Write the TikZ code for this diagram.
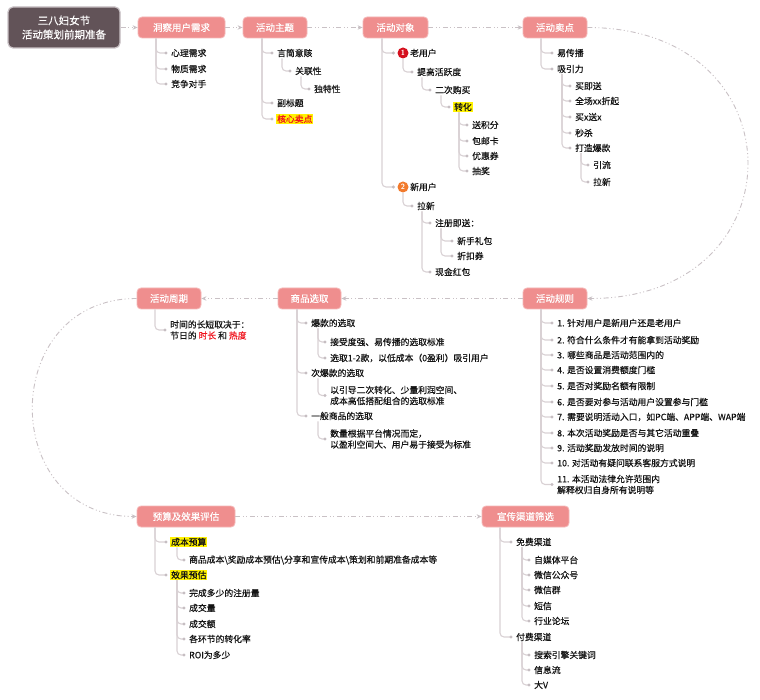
\documentclass[tikz,border=0pt]{standalone}
\usepackage{fontspec}
\newfontfamily\cjk{Noto Sans CJK SC}
\newfontfamily\cjkm[FakeBold=0.5]{Noto Sans CJK SC}
\usetikzlibrary{arrows.meta}
\definecolor{hdrpink}{HTML}{EF8E8E}
\definecolor{hdrborder}{HTML}{F5B8B8}
\definecolor{rootc}{HTML}{625358}
\definecolor{rootb}{HTML}{C9C1C5}
\definecolor{brc}{HTML}{D9D1D4}
\definecolor{dotc}{HTML}{C6BEC2}
\definecolor{flowc}{HTML}{C9C1C5}
\definecolor{txt}{HTML}{141414}
\definecolor{hlred}{HTML}{F0141E}
\definecolor{badgeA}{HTML}{D5101E}
\definecolor{badgeB}{HTML}{F27A2C}
\tikzset{
  hdr/.style={rectangle, rounded corners=4pt, fill=hdrpink, draw=hdrborder, line width=0.8pt,
    text=white, font=\cjkm\fontsize{9.5}{11}\selectfont, minimum height=21pt, inner sep=0pt},
  rootbox/.style={rectangle, rounded corners=5pt, fill=rootc, draw=rootb, line width=1.2pt,
    text=white, font=\cjkm\fontsize{10.5}{14}\selectfont, minimum width=112pt, minimum height=41pt,
    align=center, inner sep=0pt},
  lf/.style={anchor=west, inner sep=1pt, font=\cjkm\fontsize{8.8}{11}\selectfont, text=txt, align=left},
  hl/.style={fill=yellow},
  br/.style={draw=brc, line width=1.1pt, rounded corners=4pt},
  flow/.style={draw=flowc, line width=0.9pt,
    dash pattern=on 5pt off 2.5pt on 1pt off 2.5pt on 1pt off 2.5pt,
    -{Stealth[length=5pt,width=4.5pt]}},
  badge/.style={circle, minimum size=11pt, inner sep=0pt, text=white,
    font=\fontsize{7.5}{8}\selectfont\bfseries\sffamily},
}
\newcommand\kid[3]{\draw[br] (#2,0 |- #1.south) |- ([xshift=-4pt]#3.west);
  \fill[dotc] ([xshift=-4pt]#3.west) circle (1.7pt);}
\begin{document}
\begin{tikzpicture}[x=1pt,y=-1pt]
\useasboundingbox[fill=white] (0,0) rectangle (760,700);

% headers
\node[rootbox] (root) at (64,27.5) {三八妇女节\\活动策划前期准备};
\node[hdr, minimum width=87pt] (d0) at (181.5,27.5) {洞察用户需求};
\node[hdr, minimum width=64pt] (t0) at (275,27.5) {活动主题};
\node[hdr, minimum width=65pt] (o0) at (395.5,27.5) {活动对象};
\node[hdr, minimum width=64pt] (s0) at (555,27.5) {活动卖点};
\node[hdr, minimum width=64pt] (r0) at (555,298.5) {活动规则};
\node[hdr, minimum width=63pt] (g0) at (309.5,298.5) {商品选取};
\node[hdr, minimum width=64pt] (c0) at (169,298.5) {活动周期};
\node[hdr, minimum width=98pt] (y0) at (186,516.5) {预算及效果评估};
\node[hdr, minimum width=87pt] (x0) at (525.5,516.5) {宣传渠道筛选};

% flow connectors
\draw[flow] (root.east) -- (d0.west);
\draw[flow] (d0.east) -- (t0.west);
\draw[flow] (t0.east) -- (o0.west);
\draw[flow] (o0.east) -- (s0.west);
\draw[flow] (s0.east) .. controls (801,27.5) and (801,298.5) .. (r0.east);
\draw[flow] (r0.west) -- (g0.east);
\draw[flow] (g0.west) -- (c0.east);
\draw[flow] (c0.west) .. controls (-2,298.5) and (-2,516.5) .. (y0.west);
\draw[flow] (y0.east) -- (x0.west);

% 洞察用户需求
\node[lf] (d1) at (170,53) {心理需求};
\node[lf] (d2) at (170,69) {物质需求};
\node[lf] (d3) at (170,84) {竞争对手};
\kid{d0}{156}{d1}\kid{d0}{156}{d2}\kid{d0}{156}{d3}

% 活动主题
\node[lf] (t1) at (276,53) {言简意赅};
\node[lf] (t2) at (294,71) {关联性};
\node[lf] (t3) at (313,89) {独特性};
\node[lf] (t4) at (276,103) {副标题};
\node[lf, hl, text=hlred] (t5) at (276,119) {核心卖点};
\kid{t0}{262}{t1}\kid{t1}{282}{t2}\kid{t2}{301}{t3}
\kid{t0}{262}{t4}\kid{t0}{262}{t5}

% 活动对象
\node[badge, fill=badgeA] (b1) at (403,53) {1};
\node[lf] (u1) at (409,53) {老用户};
\node[lf] (u2) at (416,72) {提高活跃度};
\node[lf] (u3) at (434,90) {二次购买};
\node[lf, hl] (u4) at (453,107) {转化};
\node[lf] (u5) at (471,125) {送积分};
\node[lf] (u6) at (471,141) {包邮卡};
\node[lf] (u7) at (471,156) {优惠券};
\node[lf] (u8) at (471,171) {抽奖};
\node[badge, fill=badgeB] (b2) at (403,187) {2};
\node[lf] (n1) at (409,187) {新用户};
\node[lf] (n2) at (416,206) {拉新};
\node[lf] (n3) at (434,223) {注册即送：};
\node[lf] (n4) at (456,241) {新手礼包};
\node[lf] (n5) at (456,256) {折扣券};
\node[lf] (n6) at (434,272) {现金红包};
\kid{o0}{382}{b1}\kid{b1}{403}{u2}\kid{u2}{422}{u3}\kid{u3}{441}{u4}
\kid{u4}{459}{u5}\kid{u4}{459}{u6}\kid{u4}{459}{u7}\kid{u4}{459}{u8}
\kid{o0}{382}{b2}\kid{b2}{403}{n2}\kid{n2}{422}{n3}
\kid{n3}{441}{n4}\kid{n3}{441}{n5}\kid{n2}{422}{n6}

% 活动卖点
\node[lf] (s1) at (556,53) {易传播};
\node[lf] (s2) at (556,69) {吸引力};
\node[lf] (s3) at (574,86) {买即送};
\node[lf] (s4) at (574,101) {全场xx折起};
\node[lf] (s5) at (574,117) {买x送x};
\node[lf] (s6) at (574,133) {秒杀};
\node[lf] (s7) at (574,148) {打造爆款};
\node[lf] (s8) at (592,165) {引流};
\node[lf] (s9) at (592,182) {拉新};
\kid{s0}{541}{s1}\kid{s0}{541}{s2}
\kid{s2}{562}{s3}\kid{s2}{562}{s4}\kid{s2}{562}{s5}\kid{s2}{562}{s6}\kid{s2}{562}{s7}
\kid{s7}{581}{s8}\kid{s7}{581}{s9}

% 活动周期
\node[lf] (c1) at (169,330) {时间的长短取决于：\\节日的 {\color{hlred}时长} 和 {\color{hlred}热度}};
\kid{c0}{155}{c1}

% 商品选取
\node[lf] (g1) at (310,323) {爆款的选取};
\node[lf] (g2) at (329,342) {接受度强、易传播的选取标准};
\node[lf] (g3) at (329,358) {选取1-2款，以低成本（0盈利）吸引用户};
\node[lf] (g4) at (310,373) {次爆款的选取};
\node[lf] (g5) at (329,395.5) {以引导二次转化、少量利润空间、\\成本高低搭配组合的选取标准};
\node[lf] (g6) at (310,416) {一般商品的选取};
\node[lf] (g7) at (329,439) {数量根据平台情况而定，\\以盈利空间大、用户易于接受为标准};
\kid{g0}{297}{g1}\kid{g1}{318}{g2}\kid{g1}{318}{g3}
\kid{g0}{297}{g4}\kid{g4}{318}{g5}
\kid{g0}{297}{g6}\kid{g6}{318}{g7}

% 活动规则
\node[lf] (r1) at (556,323) {1. 针对用户是新用户还是老用户};
\node[lf] (r2) at (556,340) {2. 符合什么条件才有能拿到活动奖励};
\node[lf] (r3) at (556,355) {3. 哪些商品是活动范围内的};
\node[lf] (r4) at (556,370) {4. 是否设置消费额度门槛};
\node[lf] (r5) at (556,386) {5. 是否对奖励名额有限制};
\node[lf] (r6) at (556,402) {6. 是否要对参与活动用户设置参与门槛};
\node[lf] (r7) at (556,417) {7. 需要说明活动入口，如PC端、APP端、WAP端};
\node[lf] (r8) at (556,433) {8. 本次活动奖励是否与其它活动重叠};
\node[lf] (r9) at (556,448) {9. 活动奖励发放时间的说明};
\node[lf] (r10) at (556,463) {10. 对活动有疑问联系客服方式说明};
\node[lf] (r11) at (556,484.5) {11. 本活动法律允许范围内\\解释权归自身所有说明等};
\foreach \r in {r1,r2,r3,r4,r5,r6,r7,r8,r9,r10,r11}{\kid{r0}{541}{\r}}

% 预算及效果评估
\node[lf, hl] (y1) at (170,542) {成本预算};
\node[lf] (y2) at (188,560) {商品成本\textbackslash 奖励成本预估\textbackslash 分享和宣传成本\textbackslash 策划和前期准备成本等};
\node[lf, hl] (y3) at (170,575) {效果预估};
\node[lf] (y4) at (188,593) {完成多少的注册量};
\node[lf] (y5) at (188,608) {成交量};
\node[lf] (y6) at (188,624) {成交额};
\node[lf] (y7) at (188,639) {各环节的转化率};
\node[lf] (y8) at (188,655) {ROI为多少};
\kid{y0}{155}{y1}\kid{y1}{177}{y2}\kid{y0}{155}{y3}
\foreach \r in {y4,y5,y6,y7,y8}{\kid{y3}{177}{\r}}

% 宣传渠道筛选
\node[lf] (x1) at (515,542) {免费渠道};
\node[lf] (x2) at (533,560) {自媒体平台};
\node[lf] (x3) at (533,575) {微信公众号};
\node[lf] (x4) at (533,590) {微信群};
\node[lf] (x5) at (533,606) {短信};
\node[lf] (x6) at (533,621) {行业论坛};
\node[lf] (x7) at (515,637) {付费渠道};
\node[lf] (x8) at (533,655) {搜索引擎关键词};
\node[lf] (x9) at (533,670) {信息流};
\node[lf] (x10) at (533,685) {大V};
\kid{x0}{500}{x1}\kid{x0}{500}{x7}
\foreach \r in {x2,x3,x4,x5,x6}{\kid{x1}{522}{\r}}
\foreach \r in {x8,x9,x10}{\kid{x7}{522}{\r}}
\end{tikzpicture}
\end{document}
